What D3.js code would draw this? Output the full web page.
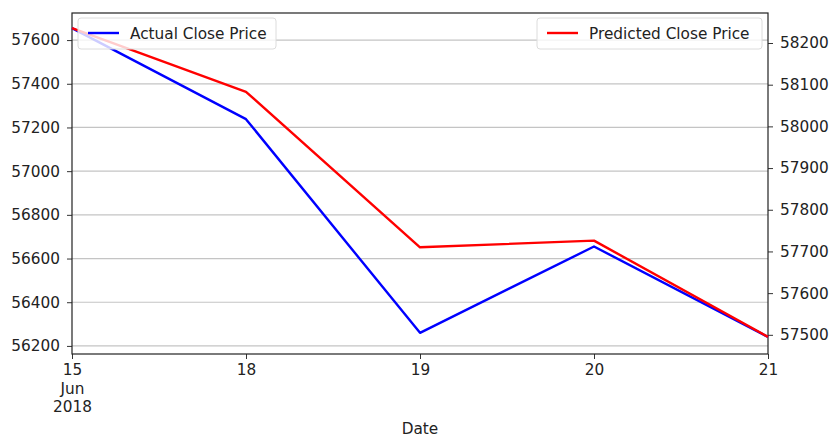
<!DOCTYPE html>
<html>
<head>
<meta charset="utf-8">
<script src="https://cdn.jsdelivr.net/npm/d3@7/dist/d3.min.js"></script>
<style>
  html, body { margin: 0; padding: 0; background: #fff; }
  svg { display: block; }
  text { font-family: "DejaVu Sans", sans-serif; fill: #222; }
</style>
</head>
<body>
<svg id="chart" width="830" height="437"></svg>
<script>
// Trading days shown on the x axis
const dates = ["15", "18", "19", "20", "21"];
const dateSub = ["Jun", "2018"];
// Actual close price (left axis)
const actualClose = [57655, 57238, 56260, 56655, 56241];
// Predicted close price (right axis)
const predictedClose = [58236, 58083, 57710, 57726, 57495];
const leftTicks = [56200, 56400, 56600, 56800, 57000, 57200, 57400, 57600];
const rightTicks = [57500, 57600, 57700, 57800, 57900, 58000, 58100, 58200];

const svg = d3.select("#chart");
const L = 72, R = 768, T = 13, B = 354;

const x = d3.scalePoint().domain(dates).range([L, R]);
const yL = d3.scaleLinear().domain([56163, 57724]).range([B, T]);
const yR = d3.scaleLinear().domain([57454, 58272]).range([B, T]);

// Horizontal grid from the left axis ticks
svg.append("g").selectAll("line").data(leftTicks).join("line")
  .attr("x1", L).attr("x2", R)
  .attr("y1", d => yL(d)).attr("y2", d => yL(d))
  .attr("stroke", "#c4c4c4").attr("stroke-width", 1.2);

const fs = 15.3;
// Left axis
const gL = svg.append("g").attr("transform", `translate(${L},0)`)
  .call(d3.axisLeft(yL).tickValues(leftTicks).tickSize(5).tickPadding(7).tickFormat(d3.format("d")));
// Right axis
const gR = svg.append("g").attr("transform", `translate(${R},0)`)
  .call(d3.axisRight(yR).tickValues(rightTicks).tickSize(5).tickPadding(7).tickFormat(d3.format("d")));
// Bottom axis
const gB = svg.append("g").attr("transform", `translate(0,${B})`)
  .call(d3.axisBottom(x).tickSize(5).tickPadding(5));

[gL, gR, gB].forEach(g => {
  g.select(".domain").remove();
  g.selectAll("line").attr("stroke", "#333");
  g.selectAll("text").attr("font-size", fs).attr("font-family", "DejaVu Sans, sans-serif").attr("fill", "#222");
});

// Month / year under the first date
gB.selectAll(".tick").filter((d, i) => i === 0).each(function () {
  const t = d3.select(this).select("text");
  dateSub.forEach(s => {
    t.append("tspan").attr("x", 0).attr("dy", "1.22em").text(s);
  });
});

// Axes frame
svg.append("rect").attr("x", L).attr("y", T).attr("width", R - L).attr("height", B - T)
  .attr("fill", "none").attr("stroke", "#222").attr("stroke-width", 1.2);

// Series lines
const lineL = d3.line().x((d, i) => x(dates[i])).y(d => yL(d));
const lineR = d3.line().x((d, i) => x(dates[i])).y(d => yR(d));
svg.append("path").datum(actualClose).attr("d", lineL)
  .attr("fill", "none").attr("stroke", "#0000ff").attr("stroke-width", 2.4).attr("stroke-linejoin", "round");
svg.append("path").datum(predictedClose).attr("d", lineR)
  .attr("fill", "none").attr("stroke", "#ff0000").attr("stroke-width", 2.4).attr("stroke-linejoin", "round");

// Legends
function legend(x0, w, color, label) {
  const g = svg.append("g");
  g.append("rect").attr("x", x0).attr("y", 18).attr("width", w).attr("height", 31).attr("rx", 3)
    .attr("fill", "rgba(255,255,255,0.8)").attr("stroke", "#dcdcdc");
  g.append("line").attr("x1", x0 + 10).attr("x2", x0 + 41).attr("y1", 33).attr("y2", 33)
    .attr("stroke", color).attr("stroke-width", 2.4);
  g.append("text").attr("x", x0 + 52).attr("y", 38.5).attr("font-size", fs).text(label);
}
legend(78, 198, "#0000ff", "Actual Close Price");
legend(537, 225, "#ff0000", "Predicted Close Price");

// X axis title
svg.append("text").attr("x", 420).attr("y", 434).attr("text-anchor", "middle")
  .attr("font-size", fs).text("Date");
</script>
</body>
</html>
